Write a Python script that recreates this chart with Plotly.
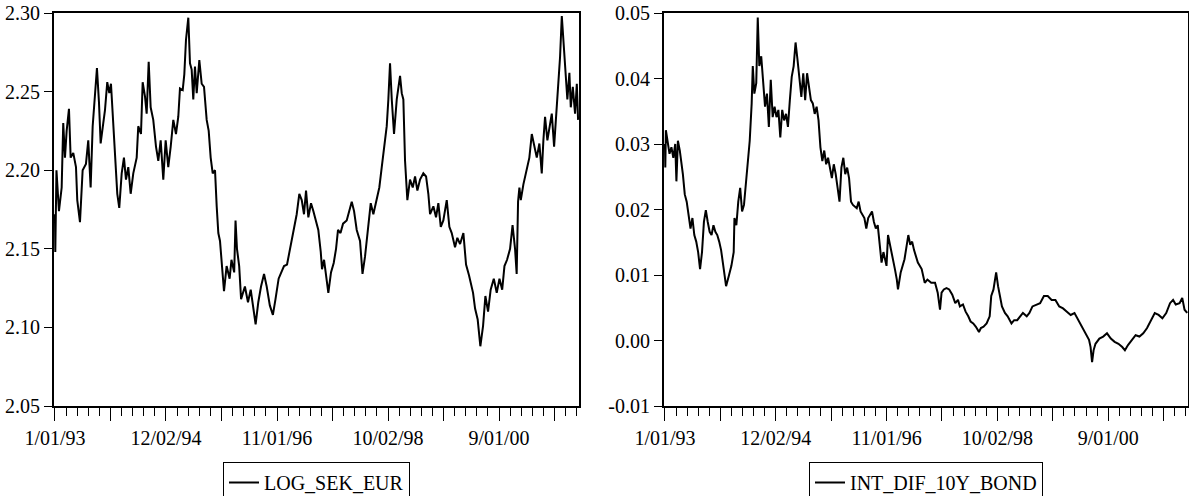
import pandas as pd
import plotly.graph_objects as go

# ---- data (decimal year, value) ----
sek_data = [
    (1993.000, 2.172), (1993.006, 2.148), (1993.026, 2.200), (1993.069, 2.174), (1993.116, 2.189),
    (1993.143, 2.230), (1993.173, 2.208), (1993.202, 2.225), (1993.242, 2.239), (1993.271, 2.208),
    (1993.316, 2.211), (1993.363, 2.202), (1993.385, 2.181), (1993.432, 2.167), (1993.478, 2.200),
    (1993.535, 2.204), (1993.575, 2.219), (1993.616, 2.189), (1993.651, 2.228), (1993.691, 2.247),
    (1993.725, 2.265), (1993.760, 2.243), (1993.789, 2.217), (1993.834, 2.230), (1993.863, 2.238),
    (1993.903, 2.256), (1993.938, 2.249), (1993.967, 2.255), (1993.996, 2.236), (1994.036, 2.211),
    (1994.076, 2.185), (1994.110, 2.176), (1994.152, 2.198), (1994.191, 2.208), (1994.226, 2.194),
    (1994.266, 2.202), (1994.307, 2.185), (1994.352, 2.198), (1994.411, 2.208), (1994.438, 2.228),
    (1994.485, 2.223), (1994.514, 2.256), (1994.554, 2.247), (1994.583, 2.236), (1994.618, 2.269),
    (1994.652, 2.240), (1994.697, 2.232), (1994.744, 2.215), (1994.784, 2.206), (1994.825, 2.219),
    (1994.870, 2.194), (1994.911, 2.219), (1994.956, 2.202), (1994.998, 2.215), (1995.043, 2.232),
    (1995.089, 2.223), (1995.129, 2.234), (1995.158, 2.252), (1995.205, 2.251), (1995.233, 2.261),
    (1995.262, 2.283), (1995.302, 2.297), (1995.331, 2.268), (1995.360, 2.264), (1995.388, 2.245),
    (1995.417, 2.266), (1995.447, 2.249), (1995.492, 2.270), (1995.533, 2.255), (1995.573, 2.253),
    (1995.619, 2.232), (1995.654, 2.225), (1995.688, 2.208), (1995.723, 2.198), (1995.763, 2.200),
    (1995.792, 2.177), (1995.820, 2.160), (1995.849, 2.155), (1995.883, 2.140), (1995.918, 2.123),
    (1995.963, 2.139), (1996.015, 2.131), (1996.047, 2.143), (1996.094, 2.135), (1996.117, 2.168),
    (1996.142, 2.150), (1996.180, 2.139), (1996.213, 2.118), (1996.279, 2.126), (1996.332, 2.116),
    (1996.379, 2.124), (1996.424, 2.113), (1996.464, 2.102), (1996.510, 2.116), (1996.557, 2.126),
    (1996.609, 2.134), (1996.655, 2.126), (1996.709, 2.114), (1996.762, 2.108), (1996.807, 2.118),
    (1996.861, 2.131), (1996.907, 2.135), (1996.954, 2.139), (1997.006, 2.140), (1997.058, 2.150),
    (1997.115, 2.160), (1997.173, 2.172), (1997.218, 2.185), (1997.260, 2.181), (1997.299, 2.172),
    (1997.334, 2.187), (1997.374, 2.170), (1997.420, 2.179), (1997.460, 2.174), (1997.506, 2.168),
    (1997.546, 2.162), (1997.588, 2.148), (1997.610, 2.137), (1997.645, 2.143), (1997.679, 2.133),
    (1997.719, 2.122), (1997.765, 2.135), (1997.812, 2.141), (1997.852, 2.150), (1997.886, 2.162),
    (1997.929, 2.160), (1997.973, 2.166), (1998.036, 2.168), (1998.081, 2.174), (1998.123, 2.180),
    (1998.163, 2.174), (1998.209, 2.162), (1998.266, 2.155), (1998.309, 2.134), (1998.352, 2.145),
    (1998.392, 2.160), (1998.451, 2.179), (1998.496, 2.172), (1998.555, 2.181), (1998.599, 2.189),
    (1998.641, 2.202), (1998.681, 2.215), (1998.727, 2.228), (1998.755, 2.245), (1998.784, 2.268),
    (1998.814, 2.245), (1998.853, 2.223), (1998.900, 2.245), (1998.957, 2.260), (1998.986, 2.249),
    (1999.014, 2.245), (1999.043, 2.206), (1999.083, 2.181), (1999.129, 2.194), (1999.176, 2.189),
    (1999.216, 2.196), (1999.256, 2.187), (1999.302, 2.194), (1999.359, 2.198), (1999.406, 2.196),
    (1999.445, 2.185), (1999.475, 2.172), (1999.532, 2.177), (1999.578, 2.170), (1999.618, 2.179),
    (1999.660, 2.164), (1999.704, 2.168), (1999.763, 2.181), (1999.808, 2.164), (1999.849, 2.160),
    (1999.906, 2.151), (1999.946, 2.157), (1999.993, 2.153), (2000.050, 2.160), (2000.096, 2.140),
    (2000.148, 2.133), (2000.217, 2.122), (2000.252, 2.112), (2000.297, 2.105), (2000.343, 2.088),
    (2000.390, 2.101), (2000.430, 2.120), (2000.476, 2.110), (2000.521, 2.124), (2000.575, 2.131),
    (2000.626, 2.122), (2000.673, 2.131), (2000.720, 2.124), (2000.759, 2.139), (2000.804, 2.143),
    (2000.856, 2.150), (2000.899, 2.165), (2000.942, 2.150), (2000.970, 2.134), (2000.994, 2.180),
    (2001.017, 2.189), (2001.041, 2.181), (2001.086, 2.191), (2001.145, 2.202), (2001.189, 2.208),
    (2001.231, 2.223), (2001.271, 2.215), (2001.317, 2.208), (2001.362, 2.217), (2001.403, 2.198),
    (2001.431, 2.219), (2001.460, 2.234), (2001.500, 2.219), (2001.535, 2.228), (2001.576, 2.236),
    (2001.616, 2.215), (2001.650, 2.232), (2001.690, 2.255), (2001.719, 2.272), (2001.749, 2.298),
    (2001.776, 2.281), (2001.806, 2.262), (2001.845, 2.245), (2001.880, 2.262), (2001.904, 2.240),
    (2001.939, 2.253), (2001.978, 2.236), (2002.008, 2.255), (2002.030, 2.232),
]

bond_data = [
    (1993.000, 0.0300), (1993.006, 0.0264), (1993.016, 0.0321), (1993.046, 0.0305), (1993.079, 0.0285),
    (1993.112, 0.0295), (1993.145, 0.0279), (1993.178, 0.0300), (1993.198, 0.0243), (1993.224, 0.0305),
    (1993.257, 0.0290), (1993.310, 0.0254), (1993.343, 0.0223), (1993.376, 0.0212), (1993.409, 0.0192),
    (1993.442, 0.0171), (1993.475, 0.0187), (1993.508, 0.0161), (1993.541, 0.0151), (1993.574, 0.0135),
    (1993.607, 0.0109), (1993.641, 0.0135), (1993.674, 0.0181), (1993.707, 0.0199), (1993.740, 0.0181),
    (1993.773, 0.0166), (1993.806, 0.0161), (1993.839, 0.0176), (1993.872, 0.0166), (1993.905, 0.0161),
    (1993.938, 0.0151), (1993.971, 0.0138), (1994.017, 0.0109), (1994.057, 0.0083), (1994.103, 0.0098),
    (1994.149, 0.0114), (1994.189, 0.0135), (1994.202, 0.0187), (1994.235, 0.0176), (1994.268, 0.0212),
    (1994.301, 0.0233), (1994.334, 0.0197), (1994.367, 0.0207), (1994.400, 0.0243), (1994.433, 0.0279),
    (1994.466, 0.0305), (1994.500, 0.0362), (1994.519, 0.0419), (1994.546, 0.0377), (1994.579, 0.0393),
    (1994.605, 0.0493), (1994.632, 0.0419), (1994.665, 0.0434), (1994.698, 0.0393), (1994.731, 0.0357),
    (1994.764, 0.0377), (1994.797, 0.0326), (1994.830, 0.0398), (1994.863, 0.0341), (1994.896, 0.0357),
    (1994.929, 0.0341), (1994.962, 0.0352), (1994.995, 0.0310), (1995.028, 0.0352), (1995.061, 0.0336),
    (1995.094, 0.0346), (1995.127, 0.0326), (1995.160, 0.0367), (1995.193, 0.0403), (1995.226, 0.0419),
    (1995.259, 0.0455), (1995.292, 0.0429), (1995.325, 0.0403), (1995.359, 0.0372), (1995.392, 0.0408),
    (1995.425, 0.0367), (1995.458, 0.0408), (1995.491, 0.0388), (1995.524, 0.0367), (1995.557, 0.0362),
    (1995.590, 0.0346), (1995.623, 0.0357), (1995.656, 0.0336), (1995.689, 0.0295), (1995.722, 0.0274),
    (1995.755, 0.0290), (1995.788, 0.0269), (1995.821, 0.0279), (1995.854, 0.0264), (1995.887, 0.0248),
    (1995.920, 0.0269), (1995.953, 0.0254), (1995.986, 0.0233), (1996.019, 0.0212), (1996.052, 0.0264),
    (1996.085, 0.0279), (1996.118, 0.0254), (1996.151, 0.0264), (1996.184, 0.0248), (1996.218, 0.0212),
    (1996.251, 0.0207), (1996.317, 0.0202), (1996.350, 0.0212), (1996.383, 0.0197), (1996.449, 0.0187),
    (1996.482, 0.0171), (1996.515, 0.0187), (1996.581, 0.0197), (1996.614, 0.0181), (1996.647, 0.0171),
    (1996.680, 0.0176), (1996.713, 0.0151), (1996.746, 0.0119), (1996.779, 0.0135), (1996.832, 0.0114),
    (1996.858, 0.0161), (1996.911, 0.0140), (1996.977, 0.0109), (1997.010, 0.0093), (1997.030, 0.0078),
    (1997.077, 0.0104), (1997.143, 0.0124), (1997.209, 0.0161), (1997.242, 0.0146), (1997.275, 0.0151),
    (1997.308, 0.0138), (1997.374, 0.0119), (1997.440, 0.0109), (1997.493, 0.0088), (1997.539, 0.0093),
    (1997.605, 0.0088), (1997.671, 0.0088), (1997.717, 0.0073), (1997.757, 0.0047), (1997.784, 0.0073),
    (1997.823, 0.0078), (1997.869, 0.0080), (1997.916, 0.0078), (1997.969, 0.0070), (1998.021, 0.0057),
    (1998.068, 0.0062), (1998.101, 0.0052), (1998.154, 0.0055), (1998.200, 0.0044), (1998.246, 0.0037),
    (1998.286, 0.0029), (1998.332, 0.0026), (1998.378, 0.0021), (1998.431, 0.0013), (1998.464, 0.0019),
    (1998.510, 0.0021), (1998.563, 0.0026), (1998.616, 0.0037), (1998.643, 0.0068), (1998.682, 0.0078),
    (1998.728, 0.0104), (1998.761, 0.0083), (1998.795, 0.0068), (1998.828, 0.0052), (1998.880, 0.0042),
    (1998.927, 0.0037), (1998.993, 0.0026), (1999.039, 0.0031), (1999.092, 0.0031), (1999.145, 0.0037),
    (1999.191, 0.0042), (1999.257, 0.0037), (1999.303, 0.0042), (1999.356, 0.0052), (1999.422, 0.0055),
    (1999.488, 0.0057), (1999.554, 0.0068), (1999.620, 0.0068), (1999.687, 0.0062), (1999.753, 0.0062),
    (1999.819, 0.0052), (1999.885, 0.0049), (1999.951, 0.0044), (2000.017, 0.0039), (2000.083, 0.0042),
    (2000.149, 0.0031), (2000.215, 0.0021), (2000.281, 0.0011), (2000.334, 0.0001), (2000.361, -0.0010),
    (2000.387, -0.0033), (2000.413, -0.0015), (2000.446, -0.0005), (2000.513, 0.0003), (2000.579, 0.0006),
    (2000.645, 0.0011), (2000.711, 0.0003), (2000.777, -0.0002), (2000.843, -0.0005), (2000.909, -0.0010),
    (2000.955, -0.0015), (2001.008, -0.0007), (2001.074, 0.0001), (2001.140, 0.0008), (2001.206, 0.0006),
    (2001.272, 0.0011), (2001.338, 0.0019), (2001.405, 0.0031), (2001.471, 0.0042), (2001.537, 0.0039),
    (2001.603, 0.0034), (2001.669, 0.0042), (2001.735, 0.0057), (2001.788, 0.0062), (2001.834, 0.0055),
    (2001.900, 0.0057), (2001.946, 0.0065), (2001.986, 0.0047), (2002.032, 0.0042),
]

series_names = ["LOG_SEK_EUR", "INT_DIF_10Y_BOND"]
x_tick_labels = ["1/01/93", "12/02/94", "11/01/96", "10/02/98", "9/01/00"]
sek_y_ticks = [2.05, 2.10, 2.15, 2.20, 2.25, 2.30]
sek_y_labels = ["2.05", "2.10", "2.15", "2.20", "2.25", "2.30"]
bond_y_ticks = [-0.01, 0.00, 0.01, 0.02, 0.03, 0.04, 0.05]
bond_y_labels = ["-0.01", "0.00", "0.01", "0.02", "0.03", "0.04", "0.05"]

BASE = pd.Timestamp("1993-01-01")


def to_dates(years):
    return [BASE + pd.Timedelta(days=(y - 1993.0) * 365.25) for y in years]


sek_years, sek_values = zip(*sek_data)
bond_years, bond_values = zip(*bond_data)

# major ticks every 50 weeks (labels on every other), minor every 10 weeks
major_ticks = pd.date_range("1993-01-01", periods=10, freq="350D")
major_text = []
for i in range(len(major_ticks)):
    major_text.append(x_tick_labels[i // 2] if i % 2 == 0 else "")
major_set = set(major_ticks)
minor_ticks = [d for d in pd.date_range("1993-01-01", "2002-01-20", freq="70D") if d not in major_set]

x_range = ["1992-12-26", "2002-01-18"]

FONT = "Liberation Serif"

fig = go.Figure()
fig.add_trace(go.Scatter(x=to_dates(sek_years), y=list(sek_values), mode="lines",
                         line=dict(color="black", width=2.0), name=series_names[0],
                         xaxis="x", yaxis="y", legend="legend"))
fig.add_trace(go.Scatter(x=to_dates(bond_years), y=list(bond_values), mode="lines",
                         line=dict(color="black", width=2.0), name=series_names[1],
                         xaxis="x2", yaxis="y2", legend="legend2"))


def xaxis(domain, anchor):
    return dict(
        domain=domain, type="date", range=x_range, anchor=anchor, automargin=False,
        tickmode="array", tickvals=list(major_ticks), ticktext=major_text,
        ticks="outside", ticklen=13, tickwidth=1.3, tickcolor="black",
        minor=dict(tickmode="array", tickvals=minor_ticks, ticks="outside", ticklen=8,
                   tickwidth=1.3, tickcolor="black", showgrid=False),
        showline=True, linewidth=2, linecolor="black", mirror=True,
        showgrid=False, zeroline=False,
        tickfont=dict(family=FONT, size=20, color="black"),
    )


def yaxis(domain, rng, vals, labels, anchor):
    return dict(
        domain=domain, range=rng, anchor=anchor, automargin=False,
        tickmode="array", tickvals=vals, ticktext=labels,
        ticks="outside", ticklen=8, tickwidth=1.3, tickcolor="black",
        showline=True, linewidth=2, linecolor="black", mirror=True,
        showgrid=False, zeroline=False,
        tickfont=dict(family=FONT, size=20, color="black"),
    )


W, H = 1189, 496
left_dom = [54 / W, 579 / W]
right_dom = [664 / W, 1188 / W]
y_dom = [1 - 406 / H, 1 - 13 / H]

legend_style = dict(xanchor="center", y=1 - 462 / H, yanchor="top",
                    bordercolor="black", borderwidth=1, bgcolor="white",
                    font=dict(family=FONT, size=20, color="black"))

fig.update_layout(
    width=W, height=H, autosize=False,
    margin=dict(l=0, r=0, t=0, b=0, autoexpand=False),
    paper_bgcolor="white", plot_bgcolor="white",
    font=dict(family=FONT, size=20, color="black"),
    xaxis=xaxis(left_dom, "y"),
    yaxis=yaxis(y_dom, [2.05, 2.30], sek_y_ticks, sek_y_labels, "x"),
    xaxis2=xaxis(right_dom, "y2"),
    yaxis2=yaxis(y_dom, [-0.01, 0.05], bond_y_ticks, bond_y_labels, "x2"),
    showlegend=True,
    legend=dict(legend_style, x=sum(left_dom) / 2),
    legend2=dict(legend_style, x=sum(right_dom) / 2),
)

fig.write_html("out.html", config={"displayModeBar": False},
               post_script="document.body.style.margin='0';")
